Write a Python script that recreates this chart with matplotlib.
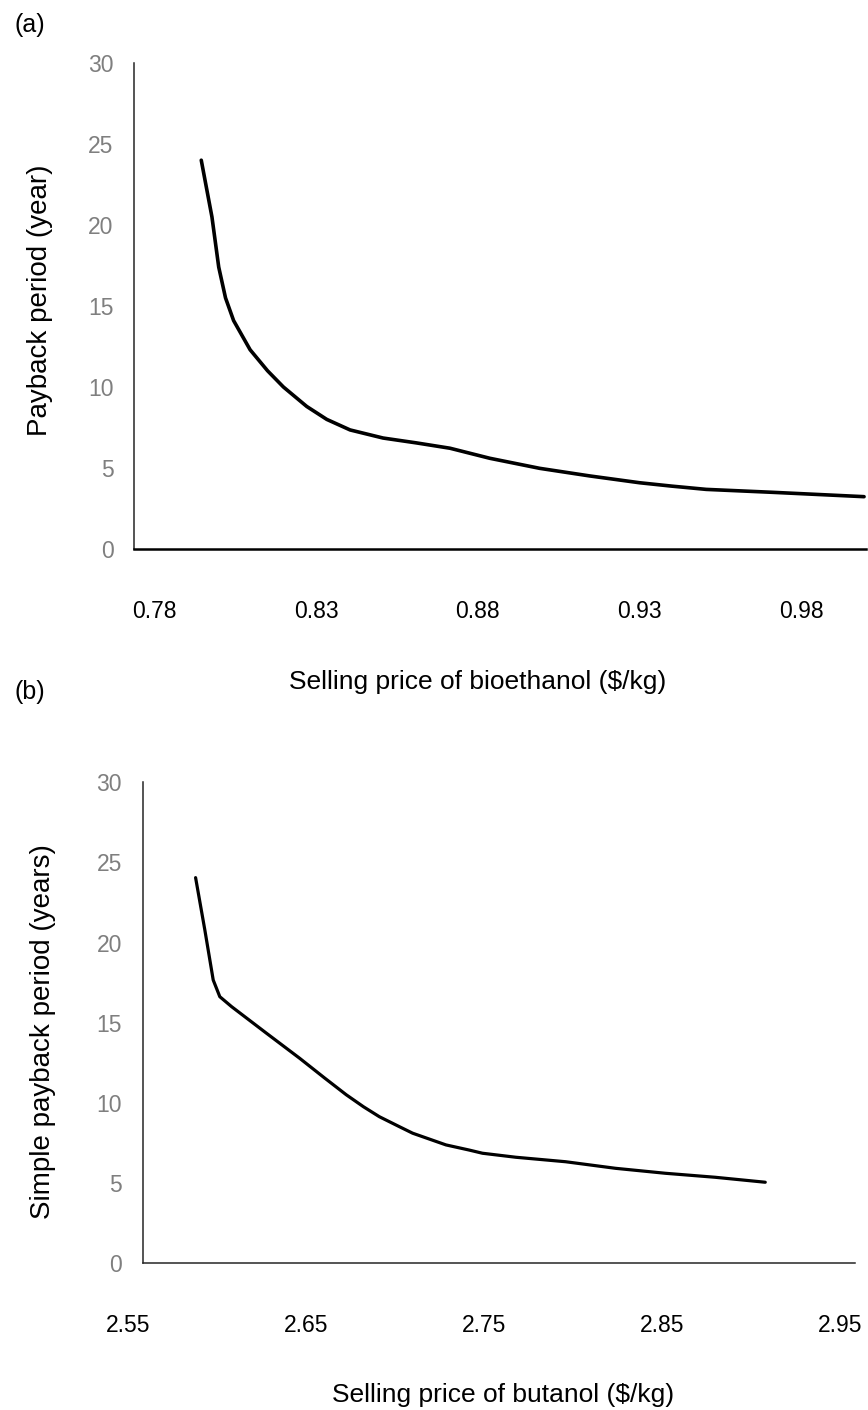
import matplotlib
matplotlib.use("Agg")
import matplotlib.pyplot as plt
from matplotlib.transforms import ScaledTranslation

plt.rcParams['font.family'] = ['Liberation Sans', 'DejaVu Sans']

# ---------------- data ----------------
# (a) bioethanol
price_ethanol = [0.7945, 0.7978, 0.7999, 0.8020, 0.8045, 0.8096, 0.8150, 0.8199,
                 0.8271, 0.8333, 0.8405, 0.8507, 0.8610, 0.8714, 0.8837, 0.8991,
                 0.9146, 0.9300, 0.9400, 0.9506, 0.9710, 0.9994]
payback_ethanol = [24.0, 20.5, 17.4, 15.5, 14.1, 12.3, 11.0, 10.0,
                   8.8, 8.0, 7.35, 6.85, 6.55, 6.22, 5.6, 4.98,
                   4.51, 4.09, 3.88, 3.68, 3.5, 3.23]
xticks_a = [0.78, 0.83, 0.88, 0.93, 0.98]
xticklabels_a = ['0.78', '0.83', '0.88', '0.93', '0.98']

# (b) butanol
price_butanol = [2.5797, 2.5849, 2.5896, 2.5933, 2.5999, 2.6195, 2.6381, 2.6521,
                 2.6643, 2.6740, 2.6829, 2.6941, 2.7016, 2.7203, 2.7333, 2.7408,
                 2.7595, 2.7875, 2.8155, 2.8435, 2.8715, 2.8996]
payback_butanol = [24.05, 20.78, 17.66, 16.62, 16.0, 14.34, 12.78, 11.55,
                   10.5, 9.75, 9.13, 8.51, 8.10, 7.37, 7.05, 6.85,
                   6.60, 6.32, 5.91, 5.60, 5.35, 5.04]
xticks_b = [2.55, 2.65, 2.75, 2.85, 2.95]
xticklabels_b = ['2.55', '2.65', '2.75', '2.85', '2.95']

yticks = [0, 5, 10, 15, 20, 25, 30]

W, H = 868, 1410
fig = plt.figure(figsize=(W / 100, H / 100), dpi=100)

def rect(l, t, r, b):
    return [l / W, 1 - b / H, (r - l) / W, (b - t) / H]

FS_TICK = 16.5
FS_XLAB = 19
FS_YLAB = 20
GRAY = '#7f7f7f'

def style(ax, lw_left, lw_bottom):
    for s in ['top', 'right']:
        ax.spines[s].set_visible(False)
    ax.spines['left'].set_linewidth(lw_left)
    ax.spines['bottom'].set_linewidth(lw_bottom)
    ax.spines['left'].set_color('#262626')
    ax.spines['bottom'].set_color('#000000')
    ax.tick_params(axis='both', length=0)
    ax.tick_params(axis='y', pad=15, labelsize=FS_TICK, labelcolor=GRAY)
    ax.tick_params(axis='x', pad=37, labelsize=FS_TICK, labelcolor='black')
    ax.set_ylim(0, 30)
    ax.set_yticks(yticks)

# panel (a)
axa = fig.add_axes(rect(134.3, 63, 866, 549))
axa.plot(price_ethanol, payback_ethanol, color='black', lw=2.6,
         solid_capstyle='round', solid_joinstyle='round')
style(axa, 1.1, 1.8)
axa.set_xlim(0.7738, 1.0)
axa.set_xticks(xticks_a)
axa.set_xticklabels(xticklabels_a)

# panel (b)
axb = fig.add_axes(rect(142.7, 782.3, 855, 1263))
axb.plot(price_butanol, payback_butanol, color='black', lw=2.3,
         solid_capstyle='round', solid_joinstyle='round')
style(axb, 1.1, 1.1)
axb.spines['bottom'].set_color('#262626')
axb.set_xlim(2.55, 2.95)
axb.set_xticks(xticks_b)
axb.set_xticklabels(xticklabels_b)
off = ScaledTranslation(-15 / 100, 0, fig.dpi_scale_trans)
for lab in axb.get_xticklabels():
    lab.set_transform(lab.get_transform() + off)

# axis titles
fig.text(40 / W, 1 - 300 / H, 'Payback period (year)', rotation=90,
         ha='center', va='center', fontsize=FS_YLAB)
fig.text(43 / W, 1 - 1032 / H, 'Simple payback period (years)', rotation=90,
         ha='center', va='center', fontsize=FS_YLAB)
fig.text(478 / W, 1 - 682 / H, 'Selling price of bioethanol ($/kg)',
         ha='center', va='center', fontsize=FS_XLAB)
fig.text(503 / W, 1 - 1395 / H, 'Selling price of butanol ($/kg)',
         ha='center', va='center', fontsize=FS_XLAB)

fig.text(14 / W, 1 - 25 / H, '(a)', ha='left', va='center', fontsize=18)
fig.text(14 / W, 1 - 692 / H, '(b)', ha='left', va='center', fontsize=18)

fig.savefig('out.png', dpi=100)
